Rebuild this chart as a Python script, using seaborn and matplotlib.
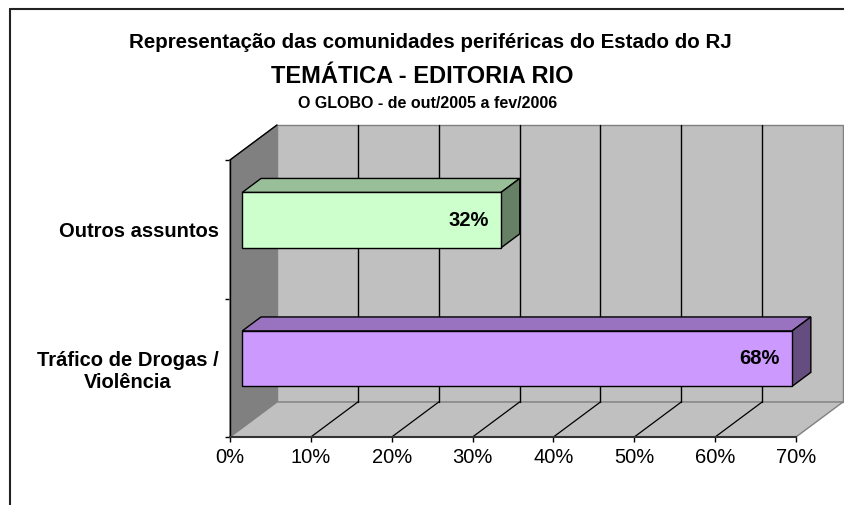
import matplotlib
matplotlib.use("Agg")
import matplotlib.pyplot as plt
import pandas as pd
import seaborn as sns
from matplotlib.lines import Line2D
from matplotlib.patches import Polygon


categories = ["Outros assuntos", "Tráfico de Drogas /\nViolência"]
shares = [0.32, 0.68]
share_labels = ["32%", "68%"]
bar_colors = ["#CCFFCC", "#CC99FF"]
x_ticks = [0.0, 0.1, 0.2, 0.3, 0.4, 0.5, 0.6, 0.7]
x_tick_labels = ["0%", "10%", "20%", "30%", "40%", "50%", "60%", "70%"]
title_lines = [
    "Representação das comunidades periféricas do Estado do RJ",
    "TEMÁTICA - EDITORIA RIO",
    "O GLOBO - de out/2005 a fev/2006",
]

sns.set_theme(style="white")
plt.rcParams["font.family"] = ["Liberation Sans", "DejaVu Sans"]
plt.rcParams["text.color"] = "black"
plt.rcParams["xtick.labelcolor"] = "black"
plt.rcParams["ytick.labelcolor"] = "black"

W, H = 845, 505
fig = plt.figure(figsize=(W / 100, H / 100), dpi=100)
fig.patch.set_facecolor("white")

# front plane of the 3D box
ax = fig.add_axes([230 / W, 1 - 437 / H, 566 / W, 277 / H])
ax.set_facecolor("none")

df = pd.DataFrame({"categoria": categories, "share": shares})
sns.barplot(
    data=df, x="share", y="categoria", hue="categoria", palette=bar_colors,
    orient="h", width=0.4, saturation=1, legend=False,
    edgecolor="black", linewidth=1.0, ax=ax, zorder=3,
)
bars = sorted(ax.patches, key=lambda p: p.get_y())

ax.set_xlim(0, 0.7)
ax.set_ylim(1.5, -0.5)

# depth of the box in data units (47 px right, 35 px up)
DX = 47 / 566 * 0.7
DY = -35 / 277 * 2.0
x_lo, x_hi = ax.get_xlim()
y_top, y_bot = -0.5, 1.5

wall_kw = dict(clip_on=False, linewidth=1.0)
ax.add_patch(Polygon([(x_lo + DX, y_top + DY), (x_hi + DX, y_top + DY),
                      (x_hi + DX, y_bot + DY), (x_lo + DX, y_bot + DY)],
                     facecolor="#C0C0C0", edgecolor="#808080", zorder=0.5, **wall_kw))
ax.add_patch(Polygon([(x_lo, y_top), (x_lo + DX, y_top + DY),
                      (x_lo + DX, y_bot + DY), (x_lo, y_bot)],
                     facecolor="#808080", edgecolor="#808080", zorder=0.6, **wall_kw))
ax.add_patch(Polygon([(x_lo, y_bot), (x_hi, y_bot),
                      (x_hi + DX, y_bot + DY), (x_lo + DX, y_bot + DY)],
                     facecolor="#C0C0C0", edgecolor="#808080", zorder=0.7, **wall_kw))
ax.plot([x_lo, x_lo + DX], [y_top, y_top + DY], color="black", lw=1.0,
        clip_on=False, zorder=0.8)

for t in x_ticks[1:-1]:
    ax.plot([t + DX, t + DX], [y_top + DY, y_bot + DY], color="black", lw=1.0,
            clip_on=False, zorder=0.8)
    ax.plot([t, t + DX], [y_bot, y_bot + DY], color="black", lw=0.9,
            clip_on=False, zorder=0.8)

# 3D bars: push front faces into the box and add top and side faces
f0, f1 = 0.26, 0.66
for patch, value, label in zip(bars, shares, share_labels):
    patch.set_x(patch.get_x() + f0 * DX)
    patch.set_y(patch.get_y() + f0 * DY)
    x0 = patch.get_x()
    x1 = x0 + patch.get_width()
    ya = patch.get_y()
    yb = ya + patch.get_height()
    dx = (f1 - f0) * DX
    dy = (f1 - f0) * DY
    base = patch.get_facecolor()
    top_c = tuple(c * 0.75 for c in base[:3])
    side_c = tuple(c * 0.5 for c in base[:3])
    ax.add_patch(Polygon([(x0, ya), (x1, ya), (x1 + dx, ya + dy), (x0 + dx, ya + dy)],
                         facecolor=top_c, edgecolor="black", lw=1.0, zorder=2.9,
                         clip_on=False))
    ax.add_patch(Polygon([(x1, ya), (x1, yb), (x1 + dx, yb + dy), (x1 + dx, ya + dy)],
                         facecolor=side_c, edgecolor="black", lw=1.0, zorder=2.9,
                         clip_on=False))
    ax.text(value, (ya + yb) / 2, label, ha="right", va="center",
            fontsize=14.5, fontweight="bold", color="black", zorder=4)

# axes, ticks and labels
for side in ["top", "right"]:
    ax.spines[side].set_visible(False)
ax.spines["left"].set_color("black")
ax.spines["left"].set_linewidth(1.0)
ax.spines["bottom"].set_color("#333333")
ax.spines["bottom"].set_linewidth(1.5)
ax.spines["left"].set_zorder(5)
ax.spines["bottom"].set_zorder(5)

ax.set_xticks(x_ticks, x_tick_labels)
ax.tick_params(axis="x", direction="out", length=3.6, width=1.0, color="black",
               pad=4.0, labelsize=14.5, labelcolor="black", bottom=True)
ax.set_yticks([-0.5, 0.5, 1.5], minor=True)
ax.tick_params(axis="y", which="minor", direction="out", length=3.6, width=1.0,
               color="black", left=True)
ax.tick_params(axis="y", which="major", length=0, pad=8, labelsize=14.5,
               labelcolor="black", left=True)
for lab in ax.get_yticklabels():
    lab.set_fontweight("bold")
    lab.set_multialignment("center")
ax.set_xlabel("")
ax.set_ylabel("")
ax.grid(False)

# titles
fig.text(430 / W, 1 - 48 / H, title_lines[0], ha="center", va="baseline",
         fontsize=14.8, fontweight="bold", color="black")
fig.text(422 / W, 1 - 83 / H, title_lines[1], ha="center", va="baseline",
         fontsize=17, fontweight="bold", color="black")
fig.text(428 / W, 1 - 108 / H, title_lines[2], ha="center", va="baseline",
         fontsize=11.5, fontweight="bold", color="black")

# chart area border (only its top and left edges are in view)
fig.add_artist(Line2D([10 / W, 10 / W], [0, 1 - 9 / H], color="#222222", lw=1.5))
fig.add_artist(Line2D([10 / W, 1], [1 - 9 / H, 1 - 9 / H], color="#222222", lw=1.5))

fig.savefig("out.png", dpi=100)
